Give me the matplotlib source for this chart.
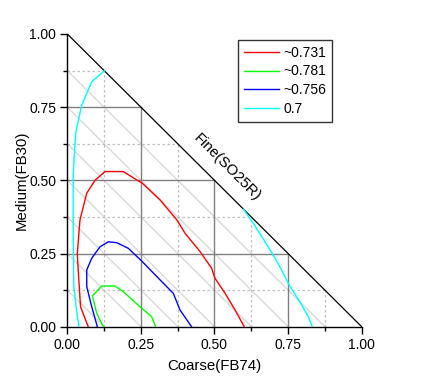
import matplotlib
matplotlib.use("Agg")
import matplotlib.pyplot as plt
from matplotlib.ticker import MultipleLocator, FormatStrFormatter

plt.rcParams['font.family'] = ['Liberation Sans', 'DejaVu Sans']

# Contour data (Coarse x, Medium y)
red_label = "~0.731"
red_x = [0.071, 0.045, 0.037, 0.034, 0.043, 0.066, 0.094, 0.128, 0.19, 0.219, 0.255, 0.315, 0.372, 0.40, 0.45, 0.49, 0.502, 0.536, 0.57, 0.601]
red_y = [0.0, 0.068, 0.194, 0.25, 0.365, 0.456, 0.50, 0.53, 0.53, 0.512, 0.49, 0.433, 0.365, 0.319, 0.258, 0.2, 0.165, 0.114, 0.057, 0.0]

green_label = "~0.781"
green_x = [0.122, 0.10, 0.085, 0.117, 0.162, 0.19, 0.247, 0.287, 0.30]
green_y = [0.0, 0.046, 0.105, 0.139, 0.139, 0.12, 0.068, 0.034, 0.0]

blue_label = "~0.756"
blue_x = [0.102, 0.083, 0.066, 0.066, 0.083, 0.111, 0.139, 0.168, 0.207, 0.255, 0.315, 0.36, 0.383, 0.422]
blue_y = [0.0, 0.068, 0.137, 0.194, 0.234, 0.273, 0.29, 0.287, 0.268, 0.222, 0.16, 0.114, 0.057, 0.0]

cyan_label = "0.7"
cyan_left_x = [0.126, 0.083, 0.049, 0.029, 0.023, 0.02, 0.02, 0.022, 0.034, 0.040]
cyan_left_y = [0.874, 0.837, 0.757, 0.666, 0.575, 0.518, 0.307, 0.137, 0.034, 0.0]
cyan_right_x = [0.599, 0.632, 0.689, 0.722, 0.754, 0.79, 0.819, 0.832]
cyan_right_y = [0.401, 0.353, 0.262, 0.205, 0.142, 0.085, 0.034, 0.0]

major = [0.25, 0.5, 0.75]
minor = [0.125, 0.375, 0.625, 0.875]
diag = [0.125, 0.25, 0.375, 0.5, 0.625, 0.75, 0.875]

fig = plt.figure(figsize=(4.44, 3.86), dpi=100)
ax = fig.add_axes([0.1516, 0.1536, 0.663, 0.7584])
ax.set_xlim(0, 1)
ax.set_ylim(0, 1)

# grid clipped to triangle
for c in diag:
    ax.plot([0, c], [c, 0], color='#d9d9d9', lw=1, zorder=1)
for c in minor:
    ax.plot([c, c], [0, 1 - c], color='#c0c0c0', lw=0.9, ls=(0, (2, 2)), zorder=1.5)
    ax.plot([0, 1 - c], [c, c], color='#c0c0c0', lw=0.9, ls=(0, (2, 2)), zorder=1.5)
for c in major:
    ax.plot([c, c], [0, 1 - c], color='#808080', lw=1, zorder=2)
    ax.plot([0, 1 - c], [c, c], color='#808080', lw=1, zorder=2)

ax.plot([0, 1], [1, 0], color='black', lw=0.9, zorder=3)

ax.plot(red_x, red_y, color='#ff0000', lw=1, label=red_label, zorder=4)
ax.plot(green_x, green_y, color='#00ff00', lw=1, label=green_label, zorder=4)
ax.plot(blue_x, blue_y, color='#0000ff', lw=1, label=blue_label, zorder=4)
ax.plot(cyan_left_x, cyan_left_y, color='#00ffff', lw=1, label=cyan_label, zorder=4)
ax.plot(cyan_right_x, cyan_right_y, color='#00ffff', lw=1, zorder=4)

ax.spines['top'].set_visible(False)
ax.spines['right'].set_visible(False)
for s in ('left', 'bottom'):
    ax.spines[s].set_linewidth(1)
    ax.spines[s].set_color('black')

ax.xaxis.set_major_locator(MultipleLocator(0.25))
ax.yaxis.set_major_locator(MultipleLocator(0.25))
ax.xaxis.set_minor_locator(MultipleLocator(0.125))
ax.yaxis.set_minor_locator(MultipleLocator(0.125))
ax.xaxis.set_major_formatter(FormatStrFormatter('%.2f'))
ax.yaxis.set_major_formatter(FormatStrFormatter('%.2f'))
ax.tick_params(which='major', direction='out', length=5, width=1, labelsize=10, pad=3)
ax.tick_params(which='minor', direction='out', length=3, width=1)

ax.set_xlabel('Coarse(FB74)', fontsize=10.8, labelpad=5)
ax.set_ylabel('Medium(FB30)', fontsize=10.8, labelpad=0)

ax.text(0.543, 0.543, 'Fine(SO25R)', rotation=-45, fontsize=10.8,
        ha='center', va='center', rotation_mode='anchor')

leg = ax.legend(loc='upper left', bbox_to_anchor=(238.3 / 444, 1 - 40 / 386),
                bbox_transform=fig.transFigure, fontsize=10, frameon=True,
                fancybox=False, edgecolor='black', handlelength=2.5,
                handletextpad=0.35, borderpad=0.4, labelspacing=0.35,
                borderaxespad=0)
leg.get_frame().set_linewidth(1)

fig.savefig('out.png', dpi=100)
